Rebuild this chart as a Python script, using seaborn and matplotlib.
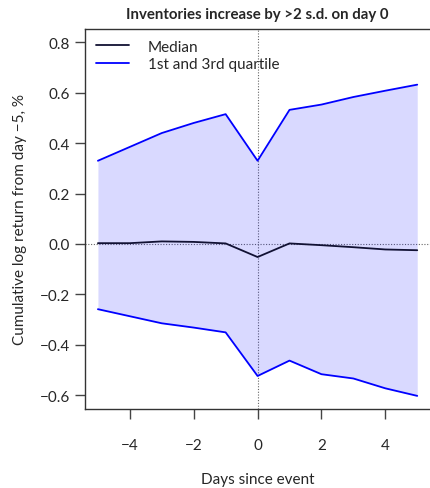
import numpy as np
import pandas as pd
import matplotlib
matplotlib.use("Agg")
import matplotlib.pyplot as plt
import seaborn as sns

# data
days = [-5, -4, -3, -2, -1, 0, 1, 2, 3, 4, 5]
median = [0.003, 0.003, 0.010, 0.008, 0.002, -0.052, 0.002, -0.005, -0.013, -0.022, -0.025]
q1 = [-0.259, -0.287, -0.315, -0.332, -0.351, -0.524, -0.463, -0.517, -0.534, -0.573, -0.603]
q3 = [0.330, 0.385, 0.440, 0.480, 0.515, 0.330, 0.532, 0.553, 0.583, 0.608, 0.632]
x_ticks = [-4, -2, 0, 2, 4]
y_ticks = [-0.6, -0.4, -0.2, 0.0, 0.2, 0.4, 0.6, 0.8]

df = pd.DataFrame({"day": days, "median": median, "q1": q1, "q3": q3})

sns.set_style("ticks")
plt.rcParams["font.family"] = ["Lato", "DejaVu Sans"]

fig = plt.figure(figsize=(4.3, 4.89), dpi=100)
ax = fig.add_axes([0.198, 0.1616, 0.802, 0.7771])

ax.fill_between(df["day"], df["q1"], df["q3"], color=(0, 0, 1, 0.15), linewidth=0)
sns.lineplot(data=df, x="day", y="median", color="#111133", lw=1.3, ax=ax, label="Median")
sns.lineplot(data=df, x="day", y="q3", color="#0000ff", lw=1.3, ax=ax, label="1st and 3rd quartile")
sns.lineplot(data=df, x="day", y="q1", color="#0000ff", lw=1.3, ax=ax)

ax.axvline(0, color="#666666", lw=0.8, ls=(0, (1, 1.5)), zorder=0.5)
ax.axhline(0, color="#666666", lw=0.8, ls=(0, (1, 1.5)), zorder=0.5)

ax.set_xlim(-5.4, 5.4)
ax.set_ylim(-0.655, 0.853)
ax.set_xticks(x_ticks)
ax.set_xticklabels([str(t).replace("-", "\u2212") for t in x_ticks])
ax.set_yticks(y_ticks)
ax.set_yticklabels([f"{t:.1f}".replace("-", "\u2212") for t in y_ticks])
ax.tick_params(axis="both", length=7, width=1, color="#444444", labelsize=11, pad=4)
ax.tick_params(axis="x", pad=14)

for s in ["left", "bottom", "top"]:
    ax.spines[s].set_color("#333333")
    ax.spines[s].set_linewidth(1)
ax.spines["right"].set_visible(False)

ax.set_xlabel("Days since event", fontsize=11, labelpad=14)
ax.set_ylabel("Cumulative log return from day \u22125, %", fontsize=11, labelpad=9)
ax.set_title("Inventories increase by >2 s.d. on day 0", fontsize=10.8, fontweight="bold", pad=8)

ax.legend(loc="upper left", frameon=False, fontsize=11, handlelength=2.2,
          borderaxespad=0.3, labelspacing=0.25, handletextpad=1.2)

fig.savefig("out.png", dpi=100)
